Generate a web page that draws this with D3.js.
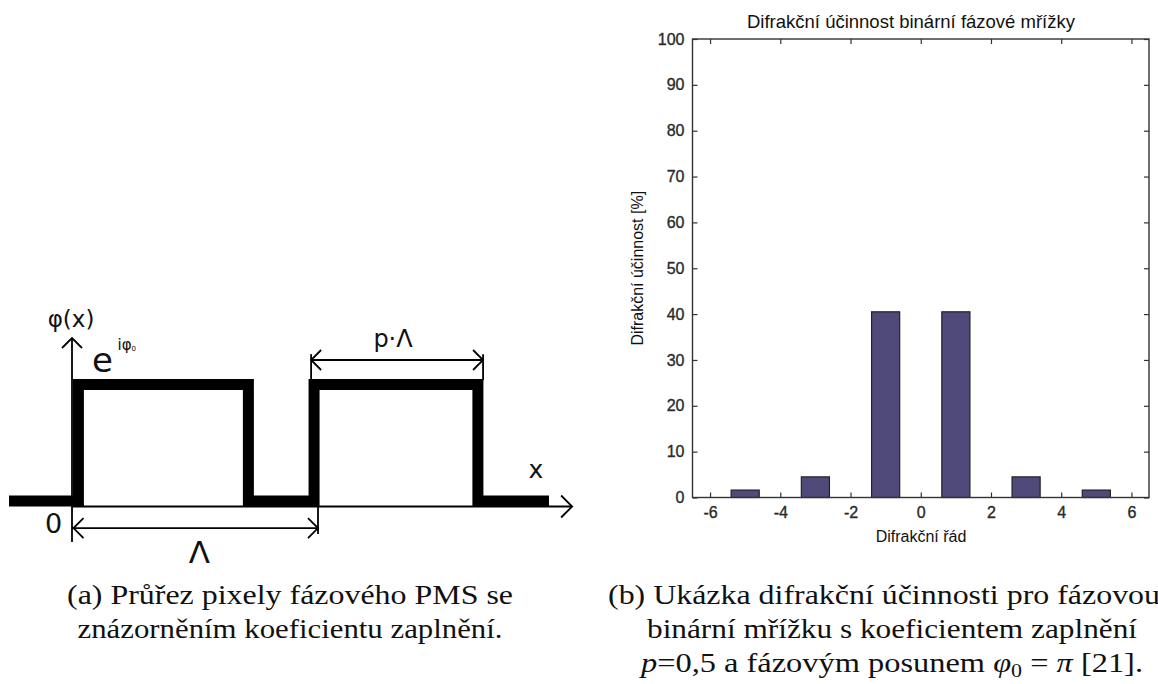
<!DOCTYPE html>
<html><head><meta charset="utf-8">
<script src="https://cdn.jsdelivr.net/npm/d3@7"></script>
<style>html,body{margin:0;padding:0;background:#fff;}svg{display:block;}</style>
</head><body>
<script>
// ---------- data ----------
const orders = [-6,-5,-4,-3,-2,-1,0,1,2,3,4,5,6];
const efficiency = [0,1.62,0,4.5,0,40.5,0,40.5,0,4.5,0,1.62,0];
const xTicks = [-6,-4,-2,0,2,4,6];
const yTicks = [0,10,20,30,40,50,60,70,80,90,100];
const chartTitle = "Difrakční účinnost binární fázové mřížky";
const xLabel = "Difrakční řád";
const yLabel = "Difrakční účinnost [%]";
// schematic (a): waveform breakpoints in units of the period Λ, level 0/1
const waveX = [-0.256,0.026,0.026,0.717,0.717,0.984,0.984,1.650,1.650,1.939];
const waveLevel = [0,0,1,1,0,0,1,1,0,0];
const periodSpan = [0,1];          // Λ dimension
const fillSpan = [0.972,1.671];     // p·Λ dimension
const captionA = ["(a) Průřez pixely fázového PMS se","znázorněním koeficientu zaplnění."];
const captionB = ["(b) Ukázka difrakční účinnosti pro fázovou","binární mřížku s koeficientem zaplnění"];

const W=1158,H=684;
const svg=d3.select("body").append("svg").attr("width",W).attr("height",H);

// ---------- chart (b) ----------
const pl=692.5, pr=1149, pt=39, pb=497.5;
const x=d3.scaleLinear().domain([-6.5,6.5]).range([pl,pr]);
const y=d3.scaleLinear().domain([0,100]).range([pb,pt]);
const data=orders.map((o,i)=>({o,v:efficiency[i]}));
const bw=0.8;
const g=svg.append("g");
g.selectAll("rect.bar").data(data.filter(d=>d.v>0)).enter().append("rect")
  .attr("class","bar")
  .attr("x",d=>x(d.o-bw/2)).attr("width",d=>x(d.o+bw/2)-x(d.o-bw/2))
  .attr("y",d=>y(d.v)).attr("height",d=>y(0)-y(d.v))
  .attr("fill","#4f4a7a").attr("stroke","#222").attr("stroke-width",1.2);

const tk=5, axCol="#333";
const fmt=d=>String(d);
const axB=d3.axisBottom(x).tickValues(xTicks).tickSize(-tk).tickPadding(9).tickFormat(fmt);
const axT=d3.axisTop(x).tickValues(xTicks).tickSize(-tk).tickFormat("");
const axL=d3.axisLeft(y).tickValues(yTicks).tickSize(-tk).tickPadding(8).tickFormat(fmt);
const axR=d3.axisRight(y).tickValues(yTicks).tickSize(-tk).tickFormat("");
function styleAx(s){s.select(".domain").remove();s.selectAll("line").attr("stroke",axCol).attr("stroke-width",1.2);
  s.selectAll("text").attr("font-family","Liberation Sans, Arial, sans-serif").attr("font-size",16)
   .attr("fill","#2a2a2a").attr("stroke","#2a2a2a").attr("stroke-width",0.35);}
g.append("g").attr("transform",`translate(0,${pb})`).call(axB).call(styleAx);
g.append("g").attr("transform",`translate(0,${pt})`).call(axT).call(styleAx);
g.append("g").attr("transform",`translate(${pl},0)`).call(axL).call(styleAx);
g.append("g").attr("transform",`translate(${pr},0)`).call(axR).call(styleAx);
g.append("rect").attr("x",pl).attr("y",pt).attr("width",pr-pl).attr("height",pb-pt)
  .attr("fill","none").attr("stroke",axCol).attr("stroke-width",1.4);
const lf="Liberation Sans, Arial, sans-serif";
g.append("text").attr("x",911).attr("y",28).attr("text-anchor","middle")
  .attr("font-family",lf).attr("font-size",18.5).attr("fill","#111").text(chartTitle);
g.append("text").attr("x",921).attr("y",542).attr("text-anchor","middle")
  .attr("font-family",lf).attr("font-size",16).attr("fill","#111").text(xLabel);
g.append("text").attr("transform",`translate(643,${(pt+pb)/2}) rotate(-90)`).attr("text-anchor","middle")
  .attr("font-family",lf).attr("font-size",16).attr("fill","#111").text(yLabel);

// ---------- schematic (a) ----------
const dx=d3.scaleLinear().domain([0,1]).range([72,318]);
const dy=d3.scaleLinear().domain([0,1]).range([506.5,379]);
const sw=11;
const d=svg.append("g");
const thin=1.8;
d.append("line").attr("x1",dx(0)).attr("x2",dx(2.033)).attr("y1",dy(0)).attr("y2",dy(0)).attr("stroke","#000").attr("stroke-width",thin);
d.append("line").attr("x1",dx(0)).attr("x2",dx(0)).attr("y1",dy(-0.278)).attr("y2",dy(1.3216)).attr("stroke","#000").attr("stroke-width",thin);
function chevron(tipX,tipY,dirx,diry,len){
  const px=-diry, py=dirx;
  const p=d3.path();
  p.moveTo(tipX-dirx*len+px*len, tipY-diry*len+py*len);
  p.lineTo(tipX,tipY);
  p.lineTo(tipX-dirx*len-px*len, tipY-diry*len-py*len);
  d.append("path").attr("d",p.toString()).attr("fill","none").attr("stroke","#000").attr("stroke-width",thin);
}
chevron(dx(2.033),dy(0),1,0,11);
chevron(dx(0),dy(1.3216),0,-1,10);
const line=d3.line().x(p=>dx(p[0])).y(p=>p[1]===0?dy(0)-sw/2:dy(1)+sw/2);
d.append("path").attr("d",line(waveX.map((v,i)=>[v,waveLevel[i]])))
  .attr("fill","none").attr("stroke","#000").attr("stroke-width",sw).attr("stroke-linejoin","miter");
const lamY=dy(-0.169);
d.append("line").attr("x1",dx(periodSpan[0])).attr("x2",dx(periodSpan[1])).attr("y1",lamY).attr("y2",lamY).attr("stroke","#000").attr("stroke-width",thin);
d.append("line").attr("x1",dx(periodSpan[1])).attr("x2",dx(periodSpan[1])).attr("y1",dy(0)).attr("y2",dy(-0.215)).attr("stroke","#000").attr("stroke-width",thin);
chevron(dx(periodSpan[0])+1.5,lamY,-1,0,10);
chevron(dx(periodSpan[1]),lamY,1,0,10);
const pY=dy(1.149);
d.append("line").attr("x1",dx(fillSpan[0])).attr("x2",dx(fillSpan[1])).attr("y1",pY).attr("y2",pY).attr("stroke","#000").attr("stroke-width",thin);
[fillSpan[0],fillSpan[1]].forEach(v=>d.append("line").attr("x1",dx(v)).attr("x2",dx(v)).attr("y1",dy(1.195)).attr("y2",dy(0.99)).attr("stroke","#000").attr("stroke-width",thin));
chevron(dx(fillSpan[0]),pY,-1,0,10);
chevron(dx(fillSpan[1]),pY,1,0,10);
const sf="DejaVu Sans, Verdana, sans-serif";
d.append("text").attr("x",dx(0)-1).attr("y",dy(1.408)).attr("text-anchor","middle").attr("font-family",sf).attr("font-size",23).attr("fill","#111").text("φ(x)");
d.append("text").attr("x",dx(0.081)).attr("y",dy(1.055)).attr("font-family",sf).attr("fill","#111").attr("font-size",34).text("e");
d.append("text").attr("x",dx(0.185)).attr("y",dy(1.227)).attr("font-family",sf).attr("font-size",15).attr("fill","#111").text("iφ")
  .append("tspan").attr("font-size",7).attr("dy",1).text("0");
d.append("text").attr("x",dx(-0.04)).attr("y",dy(-0.208)).attr("text-anchor","end").attr("font-family",sf).attr("font-size",27).attr("fill","#111").text("0");
d.append("text").attr("x",dx(0.518)).attr("y",dy(-0.443)).attr("text-anchor","middle").attr("font-family",sf).attr("font-size",31).attr("fill","#111").text("Λ");
d.append("text").attr("x",dx(1.305)).attr("y",dy(1.251)).attr("text-anchor","middle").attr("font-family",sf).attr("font-size",24).attr("fill","#111").text("p·Λ");
d.append("text").attr("x",dx(1.886)).attr("y",dy(0.224)).attr("text-anchor","middle").attr("font-family",sf).attr("font-size",25).attr("fill","#111").text("x");

// ---------- captions ----------
const cf="Liberation Serif, Times New Roman, serif";
const cs=28;
function cap(txt,cx,by,width,anchor){
  return svg.append("text").attr("x",cx).attr("y",by).attr("text-anchor",anchor||"middle")
   .attr("font-family",cf).attr("font-size",cs).attr("fill","#111").text(txt)
   .attr("textLength",width).attr("lengthAdjust","spacingAndGlyphs");
}
cap(captionA[0],290,604,446);
cap(captionA[1],290,638,425);
cap(captionB[0],608,604,552,"start");
cap(captionB[1],892,638,490);
const t3=svg.append("text").attr("x",892).attr("y",672).attr("text-anchor","middle")
  .attr("font-family",cf).attr("font-size",cs).attr("fill","#111");
t3.append("tspan").attr("font-style","italic").text("p");
t3.append("tspan").text("=0,5 a fázovým posunem ");
t3.append("tspan").attr("font-style","italic").text("φ");
t3.append("tspan").attr("font-size",19).attr("dy",5).text("0");
t3.append("tspan").attr("dy",-5).text(" = ");
t3.append("tspan").attr("font-style","italic").text("π");
t3.append("tspan").text(" [21].");
t3.attr("textLength",502).attr("lengthAdjust","spacingAndGlyphs");
</script>
</body></html>
